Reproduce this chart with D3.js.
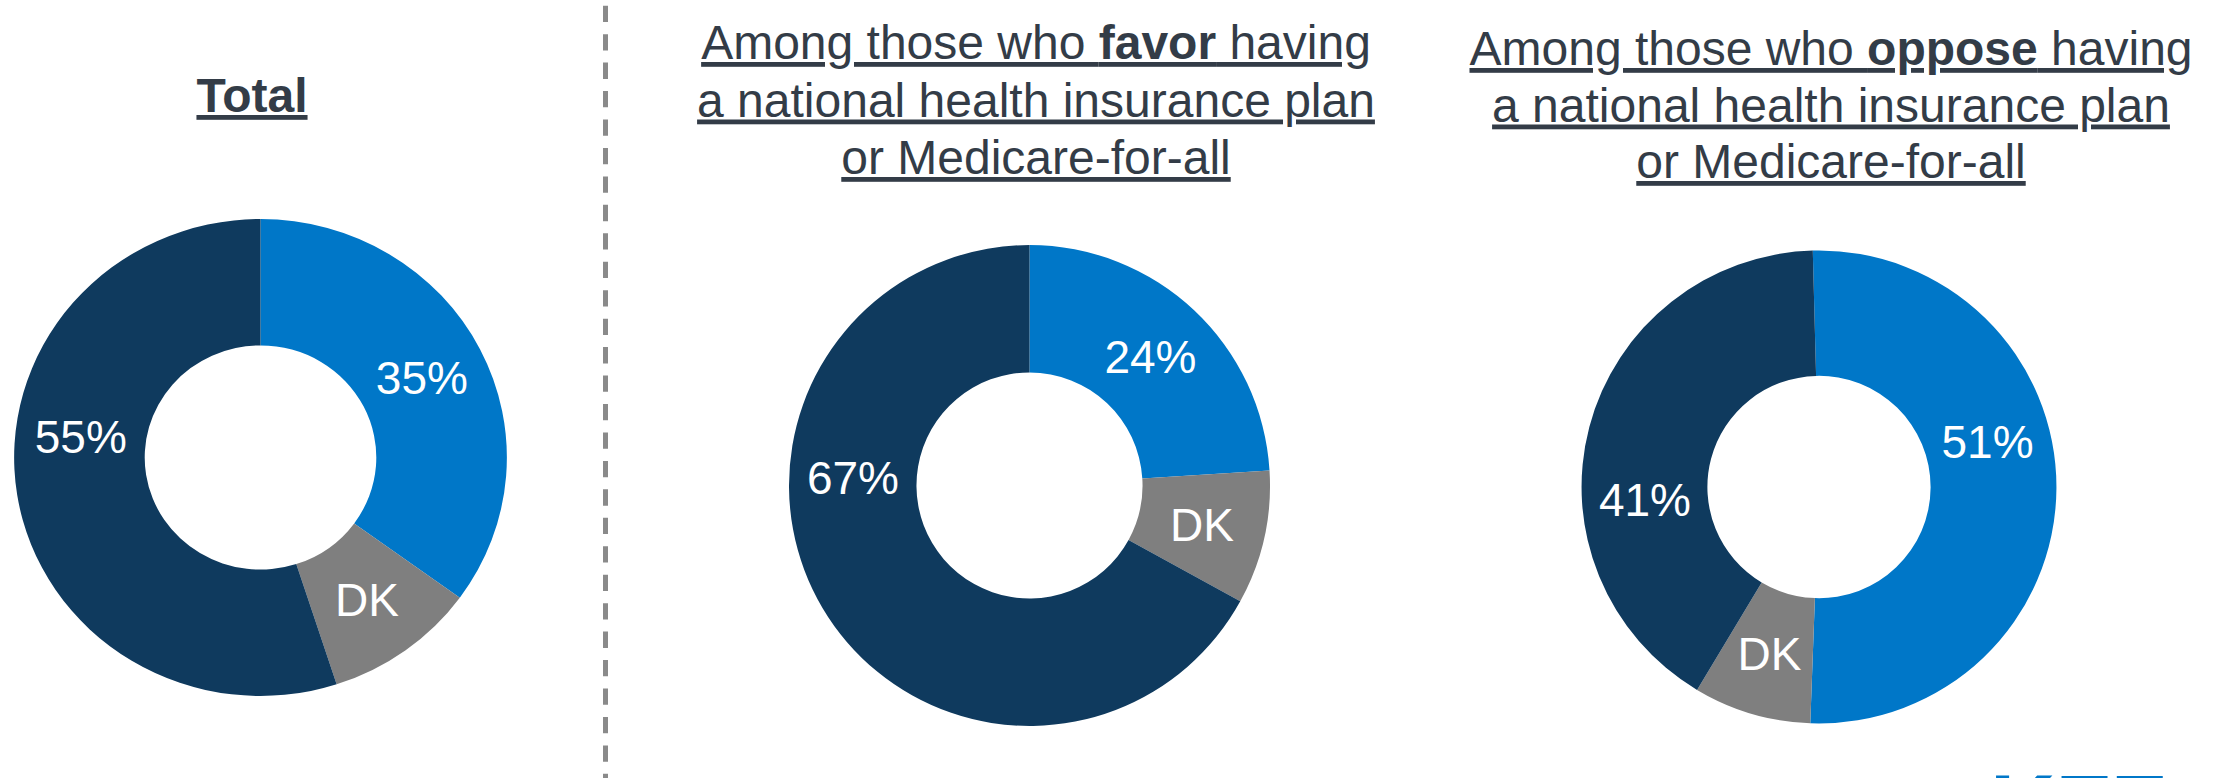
<!DOCTYPE html>
<html>
<head>
<meta charset="utf-8">
<script src="https://cdn.jsdelivr.net/npm/d3@7"></script>
<style>
  html, body { margin: 0; padding: 0; background: #ffffff; }
  svg { display: block; }
  text { font-family: "Liberation Sans", Arial, Helvetica, sans-serif; }
</style>
</head>
<body>
<svg id="chart" width="2215" height="778"></svg>
<script>
// Panel headings; "|" breaks a line, **...** marks bold words
const panelTitles = [
  "**Total**",
  "Among those who **favor** having|a national health insurance plan|or Medicare-for-all",
  "Among those who **oppose** having|a national health insurance plan|or Medicare-for-all"
];

// Shares per panel (percent), clockwise from 12 o'clock
const firstShare  = [35, 24, 51];
const dkShare     = [10, 9, 8];
const secondShare = [55, 67, 41];

const sliceKeys = ["first", "dk", "second"];
const sliceLabels = { dk: "DK" };

// ---- styling & layout -------------------------------------------------
const colors = { first: "#0077c8", dk: "#7f7f7f", second: "#0f3a5e" };
const titleColor = "#333c47";
const donuts = [
  { cx: 260.5,  cy: 457.5, r: 238.5, sx: 1.033, rot: 0,    labelAngle: { second: 277 } },
  { cx: 1029.5, cy: 485.5, r: 240.5, sx: 1,     rot: 0,    labelAngle: { second: 272.5 } },
  { cx: 1819,   cy: 487,   r: 236.5, sx: 1.004, rot: -1.5, labelAngle: { first: 75, second: 266 } }
];
const titles = [
  { x: 252,  y: 112, lh: 57.5 },
  { x: 1036, y: 59,  lh: 57.5 },
  { x: 1831, y: 65,  lh: 56.5 }
];
const holeRatio = 0.47;
const labelSize = 46;
const titleSize = 48;

const svg = d3.select("#chart");

// divider between the total and the subgroup panels
svg.append("line")
  .attr("x1", 605.5).attr("x2", 605.5)
  .attr("y1", 5.7).attr("y2", 778)
  .attr("stroke", "#8a8a8a")
  .attr("stroke-width", 5)
  .attr("stroke-dasharray", "16.3 12.15");

const pie = d3.pie().sort(null).value(d => d.value);
const toRad = deg => deg * Math.PI / 180;

donuts.forEach((cfg, i) => {
  const rows = [
    { key: "first",  value: firstShare[i] },
    { key: "dk",     value: dkShare[i] },
    { key: "second", value: secondShare[i] }
  ];
  const arcs = pie
    .startAngle(toRad(cfg.rot))
    .endAngle(toRad(cfg.rot) + 2 * Math.PI)(rows);

  const arc = d3.arc().innerRadius(cfg.r * holeRatio).outerRadius(cfg.r);

  const g = svg.append("g")
    .attr("transform", `translate(${cfg.cx},${cfg.cy})`);

  g.append("g")
    .attr("transform", `scale(${cfg.sx},1)`)
    .selectAll("path")
    .data(arcs)
    .join("path")
    .attr("d", arc)
    .attr("fill", d => colors[d.data.key]);

  // slice labels sit on the middle of the ring
  const labelR = cfg.r * (1 + holeRatio) / 2;
  g.selectAll("text.val")
    .data(arcs)
    .join("text")
    .attr("class", "val")
    .each(function (d) {
      const a = cfg.labelAngle[d.data.key] !== undefined
        ? toRad(cfg.labelAngle[d.data.key])
        : (d.startAngle + d.endAngle) / 2;
      d3.select(this)
        .attr("x", Math.sin(a) * labelR * cfg.sx)
        .attr("y", -Math.cos(a) * labelR + labelSize * 0.358);
    })
    .attr("text-anchor", "middle")
    .attr("font-size", labelSize)
    .attr("fill", "#ffffff")
    .text(d => sliceLabels[d.data.key] || `${d.data.value}%`);
});

// headings
panelTitles.forEach((title, i) => {
  const pos = titles[i];
  title.split("|").forEach((line, j) => {
    const t = svg.append("text")
      .attr("x", pos.x)
      .attr("y", pos.y + j * pos.lh)
      .attr("text-anchor", "middle")
      .attr("font-size", titleSize)
      .attr("fill", titleColor)
      .style("white-space", "pre")
      .style("text-decoration", "underline");
    line.split("**").forEach((part, k) => {
      if (!part) return;
      t.append("tspan")
        .attr("font-weight", k % 2 === 1 ? "bold" : "normal")
        .text(part);
    });
  });
});

// organisation mark, running off the bottom edge
svg.append("text")
  .attr("x", 1990)
  .attr("y", 842)
  .attr("font-size", 96)
  .attr("font-weight", "bold")
  .attr("fill", "#0077c8")
  .attr("textLength", 176)
  .attr("lengthAdjust", "spacingAndGlyphs")
  .text("KFF");
</script>
</body>
</html>
